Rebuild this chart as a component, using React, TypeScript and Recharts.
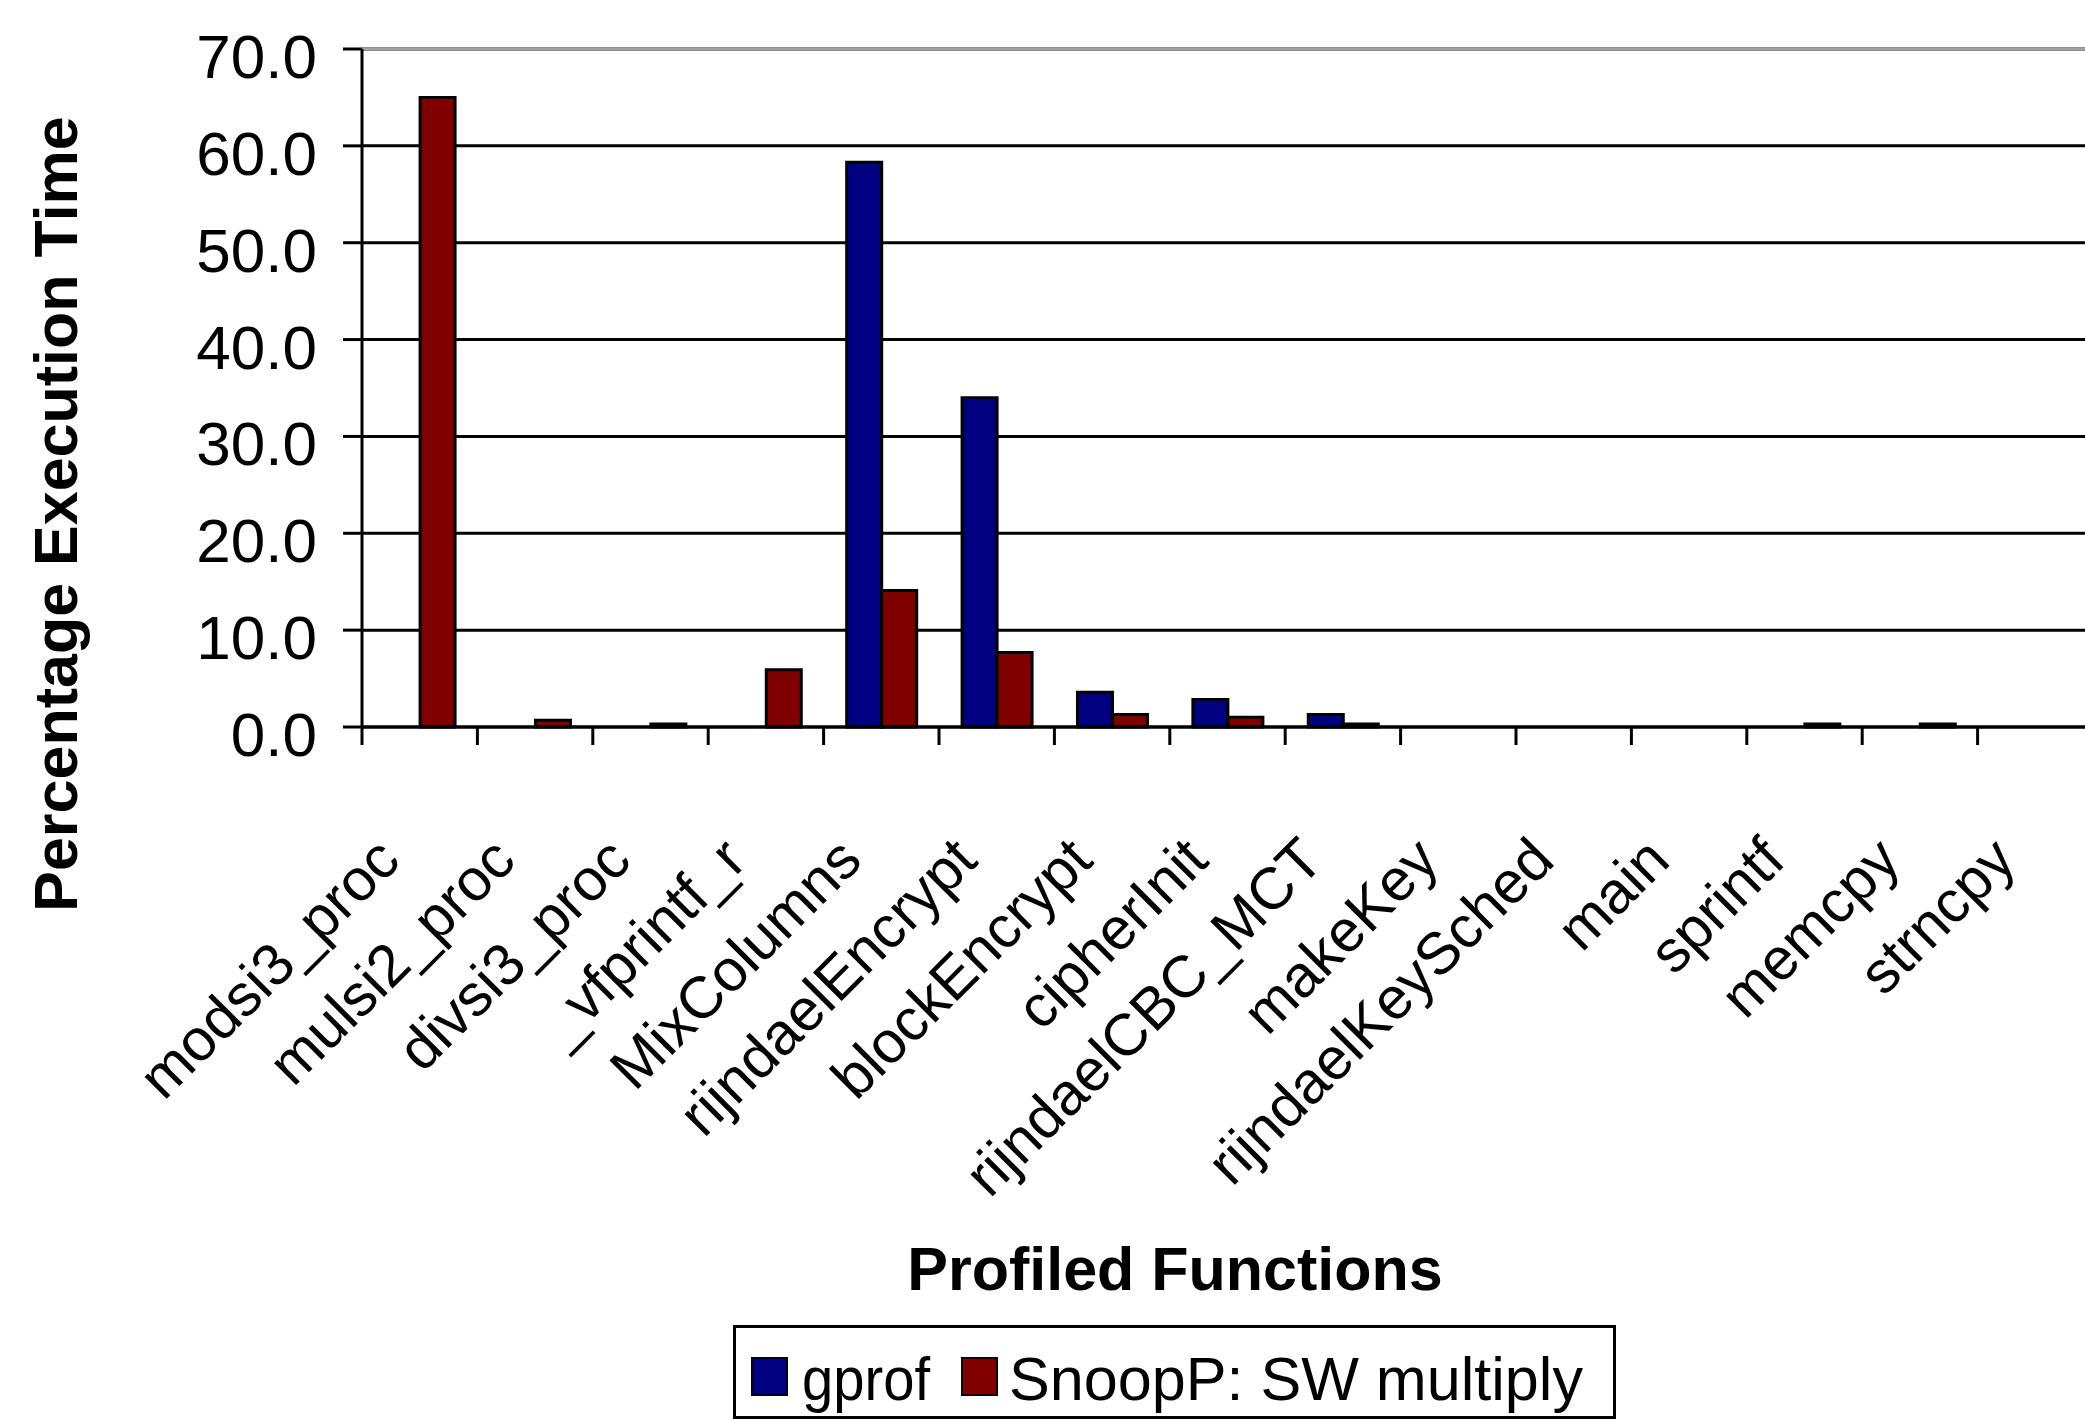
import React from 'react';
import { BarChart, Bar, XAxis, YAxis, CartesianGrid, ReferenceLine } from 'recharts';

const categories = [
  'modsi3_proc', 'mulsi2_proc', 'divsi3_proc', '_vfprintf_r', 'MixColumns',
  'rijndaelEncrypt', 'blockEncrypt', 'cipherInit', 'rijndaelCBC_MCT', 'makeKey',
  'rijndaelKeySched', 'main', 'sprintf', 'memcpy', 'strncpy',
];
const gprofValues = [0, 0, 0, 0, 58.3, 34.0, 3.6, 2.85, 1.3, 0, 0, 0, 0, 0, 0];
const snoopValues = [65.0, 0.7, 0.3, 5.9, 14.1, 7.7, 1.3, 1.0, 0.3, 0, 0, 0, 0.3, 0.3, 0];
const seriesNames = ['gprof', 'SnoopP: SW multiply'];
const seriesColors = ['#000080', '#800000'];
const yTicks = [0, 10, 20, 30, 40, 50, 60, 70];
const xTitle = 'Profiled Functions';
const yTitle = 'Percentage Execution Time';

const data = categories.map((name, i) => ({ name, gprof: gprofValues[i], snoop: snoopValues[i] }));

const FONT = '"Liberation Sans", Arial, Helvetica, sans-serif';

const XTick = (props: any) => {
  const { x, y, payload } = props;
  const half = payload && payload.offset ? payload.offset : 57.7;
  const lx = x - 17;
  const ly = y + 136;
  return (
    <g>
      <line x1={x - half} y1={y} x2={x - half} y2={y + 18} stroke="#000" strokeWidth={3} />
      <text
        x={lx}
        y={ly}
        textAnchor="end"
        transform={`rotate(-45, ${lx}, ${ly})`}
        fontFamily={FONT}
        fontSize={59}
        fill="#000"
      >
        {payload.value}
      </text>
    </g>
  );
};

const YTick = (props: any) => {
  const { x, y, payload } = props;
  return (
    <text x={x} y={y + 29} textAnchor="end" fontFamily={FONT} fontSize={62} fill="#000">
      {Number(payload.value).toFixed(1)}
    </text>
  );
};

const YTitle = () => (
  <text
    x={77}
    y={514}
    transform="rotate(-90, 77, 514)"
    textAnchor="middle"
    fontFamily={FONT}
    fontWeight="bold"
    fontSize={61}
    fill="#000"
  >
    {yTitle}
  </text>
);

const XTitle = () => (
  <text x={1175} y={1290} textAnchor="middle" fontFamily={FONT} fontWeight="bold" fontSize={61} fill="#000">
    {xTitle}
  </text>
);

const LegendBox = () => (
  <svg
    width={900}
    height={110}
    style={{ position: 'absolute', left: 730, top: 1320 }}
  >
    <rect x={4.5} y={6.5} width={880} height={91} fill="#fff" stroke="#000" strokeWidth={3} />
    <rect x={22} y={38} width={35} height={37} fill={seriesColors[0]} stroke="#000" strokeWidth={2} />
    <text x={72} y={80} fontFamily={FONT} fontSize={61} fill="#000" textLength={128} lengthAdjust="spacingAndGlyphs">{seriesNames[0]}</text>
    <rect x={232} y={38} width={35} height={37} fill={seriesColors[1]} stroke="#000" strokeWidth={2} />
    <text x={279} y={80} fontFamily={FONT} fontSize={61} fill="#000" textLength={574} lengthAdjust="spacingAndGlyphs">{seriesNames[1]}</text>
  </svg>
);

export default function App() {
  return (
    <div
      style={{
        position: 'absolute',
        left: 0,
        top: 0,
        width: 2085,
        height: 1420,
        overflow: 'hidden',
        background: '#fff',
      }}
    >
      <BarChart
        width={2100}
        height={1420}
        data={data}
        margin={{ top: 49, right: 7, bottom: 593, left: 0 }}
        barCategoryGap="20%"
        barGap={0}
      >
        <CartesianGrid horizontal vertical={false} stroke="#000" strokeWidth={3} />
        <XAxis
          dataKey="name"
          interval={0}
          height={100}
          tickLine={false}
          tickSize={0}
          tickMargin={0}
          axisLine={{ stroke: '#000', strokeWidth: 3 }}
          tick={<XTick />}
          label={<XTitle />}
        />
        <YAxis
          domain={[0, 70]}
          ticks={yTicks}
          width={362}
          tickSize={19}
          tickMargin={26}
          tickLine={{ stroke: '#000', strokeWidth: 3 }}
          axisLine={{ stroke: '#000', strokeWidth: 3 }}
          tick={<YTick />}
          label={<YTitle />}
          interval={0}
        />
        <ReferenceLine y={70} stroke="#a0a0a0" strokeWidth={3} />
        <Bar dataKey="gprof" name={seriesNames[0]} fill={seriesColors[0]} stroke="#000" strokeWidth={3} isAnimationActive={false} />
        <Bar dataKey="snoop" name={seriesNames[1]} fill={seriesColors[1]} stroke="#000" strokeWidth={3} isAnimationActive={false} />
      </BarChart>
      <LegendBox />
    </div>
  );
}
